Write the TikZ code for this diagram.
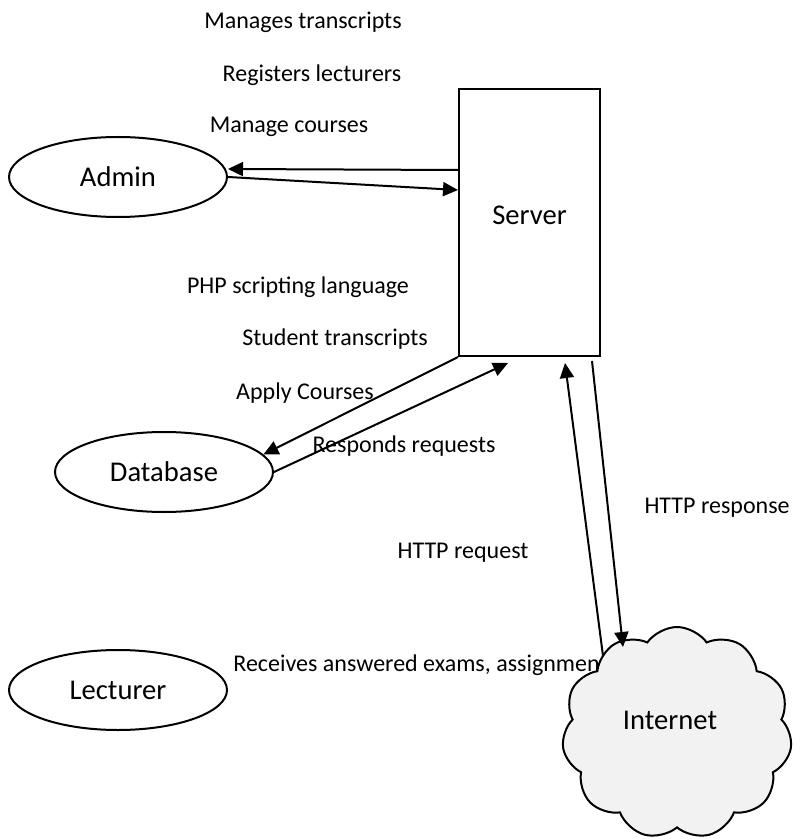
\documentclass[tikz,border=0pt]{standalone}
\usepackage{fontspec}
\setmainfont{Carlito}
\usetikzlibrary{arrows.meta,shapes.geometric,shapes.symbols}

\begin{document}
\begin{tikzpicture}[
  x=0.5pt, y=-0.5pt,
  big/.style={font=\fontsize{14.3}{17}\selectfont},
  ent/.style={ellipse, draw, line width=1pt, minimum width=109pt, minimum height=40pt, inner sep=0pt, big},
  lbl/.style={inner sep=0pt, font=\fontsize{12}{14}\selectfont},
  flow/.style={->, line width=1pt},
  >={Triangle[length=7.5pt,width=7pt]}
]
\useasboundingbox (0,0) rectangle (792,839);

% actors
\node[ent] (admin) at (118,177) {Admin};
\node[ent] (database) at (164,472) {Database};
\node[ent] (lecturer) at (118,690) {Lecturer};

% server
\node[draw, line width=1pt, minimum width=70.5pt, minimum height=133.5pt, inner sep=0pt,
  label={[big, yshift=3.75pt]center:Server}] (server) at (529.5,222.5) {};

% labels
\node[lbl] (mtrans) at (303,22) {Manages transcripts};
\node[lbl] (reglect) at (312,75) {Registers lecturers};
\node[lbl] (mcourse) at (289,127) {Manage courses};
\node[lbl] (php) at (298,287) {PHP scripting language};
\node[lbl] (strans) at (335,339) {Student transcripts};
\node[lbl] (apply) at (305,393) {Apply Courses};
\node[lbl] (responds) at (404,446) {Responds requests};
\node[lbl, anchor=east] (httpresp) at (790,508) {HTTP response};
\node[lbl] (httpreq) at (463,553) {HTTP request};
\node[lbl, anchor=west] (receives) at (233,665) {Receives answered exams, assignments};

% internet
\node[cloud, draw, line width=1pt, fill=gray!10, cloud puffs=11, cloud puff arc=110,
  minimum width=115pt, minimum height=106pt, inner sep=0pt,
  label={[big, xshift=-3.5pt, yshift=6.5pt]center:Internet}] (internet) at (677,733) {};

% admin <-> server
\draw[flow] ([yshift=26.25pt]server.west) -- ([yshift=4pt]admin.east);
\draw[flow] (admin.east) -- ([yshift=16.25pt]server.west);

% database <-> server
\draw[flow] (server.south west) -- (database.10);
\draw[flow] (database.east) -- ([shift={(-10.75pt,-3pt)}]server.south);

% internet <-> server
\draw[flow] ([shift={(-37pt,38.5pt)}]internet.center) -- ([shift={(17.75pt,-3pt)}]server.south);
\draw[flow] ([shift={(31.25pt,-2pt)}]server.south) -- ([shift={(-27pt,43pt)}]internet.center);
\end{tikzpicture}
\end{document}
